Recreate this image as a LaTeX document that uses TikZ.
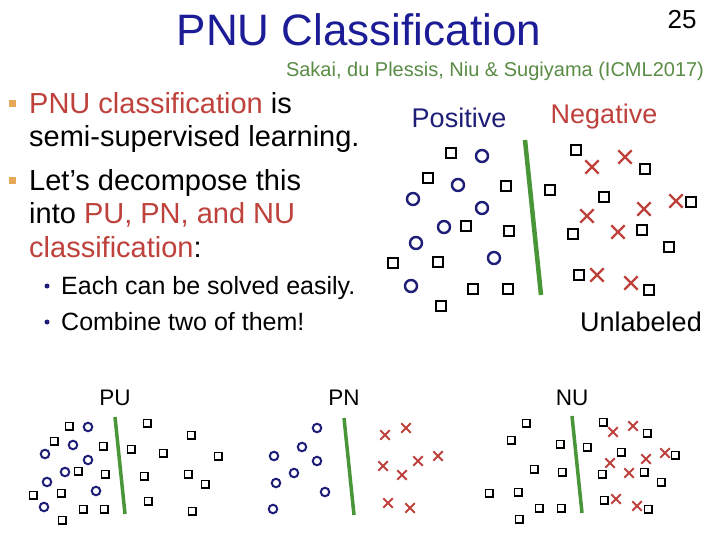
\documentclass[tikz,border=0pt]{standalone}
\usepackage{fontspec}
\setmainfont{Liberation Sans}
\usepackage{tikz}
\usetikzlibrary{positioning, shapes.misc}
\definecolor{titleblue}{RGB}{28,28,150}
\definecolor{posblue}{RGB}{30,30,120}
\definecolor{negred}{RGB}{190,65,60}
\definecolor{bulletorange}{RGB}{232,168,90}
\definecolor{refgreen}{RGB}{90,140,70}
\definecolor{sepgreen}{RGB}{72,150,55}

\begin{document}
\begin{tikzpicture}[x=1pt, y=-1pt,
    usq/.style={rectangle, draw=black, line width=1.8pt, minimum size=10pt, inner sep=0pt},
    pcirc/.style={circle, draw=posblue, line width=2.4pt, minimum size=12pt, inner sep=0pt},
    ncross/.style={cross out, draw=negred, line width=2.4pt, minimum size=11pt, inner sep=0pt},
    usqs/.style={usq, line width=1.5pt, minimum size=7.5pt},
    pcircs/.style={pcirc, line width=2pt, minimum size=8.5pt},
    ncrosss/.style={ncross, line width=2pt, minimum size=7.5pt},
    sep/.style={line width=4.5pt, sepgreen},
    seps/.style={line width=3.5pt, sepgreen},
    txt/.style={anchor=base west, font=\fontsize{29}{33}\selectfont, inner sep=0pt},
    subtxt/.style={anchor=base west, font=\fontsize{25}{29}\selectfont, inner sep=0pt},
    lbl/.style={font=\fontsize{27}{31}\selectfont, inner sep=0pt},
    lbls/.style={font=\fontsize{22.5}{26}\selectfont, inner sep=0pt},
]
\useasboundingbox[fill=white] (0,0) rectangle (720,540);

% Title
\node[font=\fontsize{44}{48}\selectfont, text=titleblue, inner sep=0pt] (title) at (359,30) {PNU Classification};
\node[font=\fontsize{26}{30}\selectfont, inner sep=0pt] (pagenum) at (682,20) {25};
\node[font=\fontsize{20}{24}\selectfont, text=refgreen, inner sep=0pt] (ref) at (495,71) {Sakai, du Plessis, Niu \& Sugiyama (ICML2017)};

% Bullets
\node[fill=bulletorange, minimum size=7pt, inner sep=0pt] (b1) at (12,104) {};
\node[fill=bulletorange, minimum size=7pt, inner sep=0pt] (b2) at (12,181) {};
\node[txt] (l1) at (29,114) {\textcolor{negred}{PNU classification} is};
\node[txt] (l2) at (29,147) {semi-supervised learning.};
\node[txt] (l3) at (29,191) {Let’s decompose this};
\node[txt] (l4) at (29,224) {into \textcolor{negred}{PU, PN, and NU}};
\node[txt] (l5) at (29,257) {\textcolor{negred}{classification}:};
\node[circle, fill=posblue, minimum size=5pt, inner sep=0pt] (d1) at (47,286) {};
\node[circle, fill=posblue, minimum size=5pt, inner sep=0pt] (d2) at (47,322) {};
\node[subtxt] (s1) at (61,294) {Each can be solved easily.};
\node[subtxt] (s2) at (61,330) {Combine two of them!};

% PNU scatter (top right)
\node[lbl, text=posblue] (poslbl) at (459,118) {Positive};
\node[lbl, text=negred] (neglbl) at (604,117) {Negative};
\node[lbl] (unlbl) at (641,322) {Unlabeled};
\coordinate (topa) at (525,140);
\coordinate (topb) at (541,295);
\draw[sep] (topa) -- (topb);
\foreach \p [count=\i] in {(451,153),(428,178),(506,186),(466,226),(509,231),(438,262),(393,263),(473,289),(508,289),(441,306),
    (550,190),(576,150),(645,169),(604,197),(691,202),(573,234),(642,230),(669,247),(579,275),(649,290)}
    \node[usq] (tu\i) at \p {};
\foreach \p [count=\i] in {(482,156),(458,185),(413,199),(482,208),(444,227),(416,243),(494,258),(411,286)}
    \node[pcirc] (tp\i) at \p {};
\foreach \p [count=\i] in {(592,167),(625,157),(676,201),(644,209),(587,216),(618,232),(597,275),(631,283)}
    \node[ncross] (tn\i) at \p {};

% PU
\node[lbls] (pulbl) at (115,398) {PU};
\coordinate (pua) at (115,417);
\coordinate (pub) at (125,514);
\draw[seps] (pua) -- (pub);
\foreach \p [count=\i] in {(69,426),(54,441),(103,446),(131,449),(147,423),(191,435),(163,453),(218,456),(78,471),(105,474),
    (144,476),(188,474),(205,484),(33,495),(61,493),(83,509),(104,509),(148,501),(192,511),(62,520)}
    \node[usqs] (puu\i) at \p {};
\foreach \p [count=\i] in {(88,427),(73,445),(45,454),(88,460),(65,472),(47,482),(96,491),(44,507)}
    \node[pcircs] (pup\i) at \p {};

% PN
\node[lbls] (pnlbl) at (344,398) {PN};
\coordinate (pna) at (344,418);
\coordinate (pnb) at (354,515);
\draw[seps] (pna) -- (pnb);
\foreach \p [count=\i] in {(317,428),(302,447),(274,456),(317,461),(294,473),(276,483),(325,492),(273,509)}
    \node[pcircs] (pnp\i) at \p {};
\foreach \p [count=\i] in {(385,435),(406,428),(383,466),(418,461),(438,456),(402,475),(388,503),(410,508)}
    \node[ncrosss] (pnn\i) at \p {};

% NU
\node[lbls] (nulbl) at (572,398) {NU};
\coordinate (nua) at (572,416);
\coordinate (nub) at (582,513);
\draw[seps] (nua) -- (nub);
\foreach \p [count=\i] in {(526,423),(511,440),(560,444),(587,447),(603,422),(647,433),(621,452),(675,455),(534,469),(562,472),
    (602,474),(644,472),(661,482),(489,493),(518,492),(539,508),(561,508),(604,500),(648,509),(519,519)}
    \node[usqs] (nuu\i) at \p {};
\foreach \p [count=\i] in {(613,432),(633,426),(665,453),(646,459),(610,463),(629,473),(616,499),(637,506)}
    \node[ncrosss] (nun\i) at \p {};

\end{tikzpicture}
\end{document}
